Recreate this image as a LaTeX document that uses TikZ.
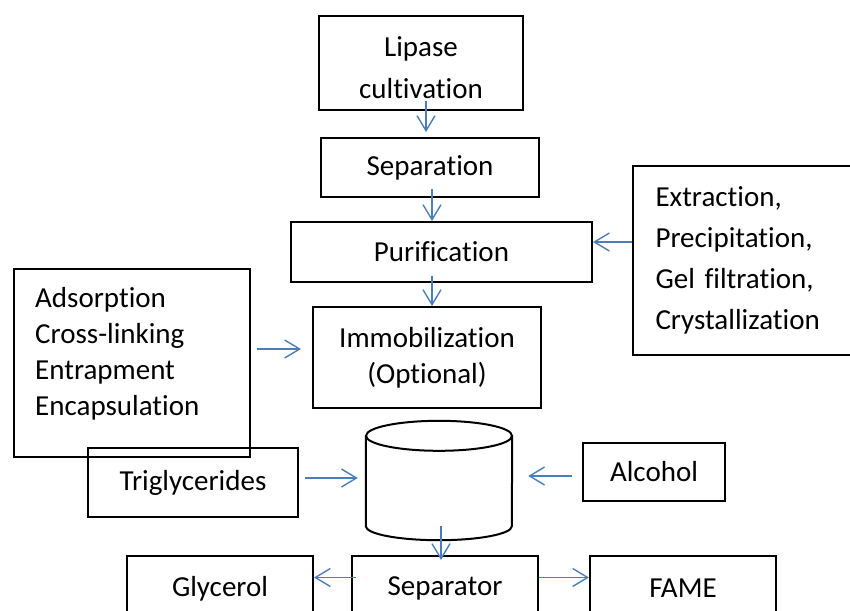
\documentclass[tikz,border=0pt]{standalone}
\usepackage{fontspec}
\setmainfont{Carlito}[Ligatures=NoCommon]
\usetikzlibrary{arrows.meta}
\definecolor{flowblue}{HTML}{4A7EBB}

\begin{document}
\begin{tikzpicture}[x=1pt, y=-1pt,
	box/.style={draw, line width=2pt, inner sep=0pt, align=center, font=\fontsize{29}{37}\selectfont},
	flow/.style={draw=flowblue, line width=1.4pt, -{Straight Barb[length=15pt, width=18pt]}}]
					\useasboundingbox (0,0) rectangle (850,610);

					\node[box, minimum width=204, minimum height=94] (lipase) at (421,63) {};
					\node[inner sep=0pt, align=center, font=\fontsize{29}{42}\selectfont] (lipasetext) at ([yshift=-5pt]lipase.center) {Lipase\\cultivation};
					\node[box, minimum width=218, minimum height=59] (sep) at (430,167.5) {Separation};
					\node[box, minimum width=301, minimum height=60] (purif) at (441.5,252) {Purification};
					\node[box, minimum width=230, minimum height=189, text width=185, align=left, font=\fontsize{29}{41}\selectfont] (methods) at (748,260.5) {Extraction,\\Precipitation,\\Gel filtration,\\Crystallization};
					\node[box, minimum width=228, minimum height=101, font=\fontsize{29}{36}\selectfont] (immob) at (427,357.5) {Immobilization\\(Optional)};
					\node[box, minimum width=236, minimum height=188] (adsorb) at (132,363) {};
					\node[inner sep=0pt, anchor=west, align=left, font=\fontsize{29}{36}\selectfont] (adsorbtext) at (35,354) {Adsorption\\Cross-linking\\Entrapment\\Encapsulation};
					\node[box, minimum width=210, minimum height=69] (trig) at (193,482.5) {Triglycerides};
					\node[box, minimum width=142, minimum height=58] (alcohol) at (654,472) {Alcohol};
					\node[box, minimum width=186, minimum height=65] (separator) at (445,588.5) {Separator};
					\node[box, minimum width=186, minimum height=65] (glycerol) at (220,588.5) {Glycerol};
					\node[box, minimum width=186, minimum height=65] (fame) at (683,588.5) {FAME};

					% reactor
					\node[inner sep=0pt, minimum width=146, minimum height=90] (tank) at (439,481) {};
					\draw[line width=2pt] (tank.north west) -- (tank.south west)
						arc[start angle=180, end angle=0, x radius=73, y radius=14] -- (tank.north east);
					\draw[line width=2pt] (tank.north) ellipse [x radius=73, y radius=15];

					\path[every edge/.style={flow}]
					([xshift=5pt, yshift=10pt]lipase.south) edge[shorten >=5pt] ([xshift=5pt]lipase.south |- sep.north)
					([xshift=2pt, yshift=9pt]sep.south) edge ([xshift=2pt]sep.south |- purif.north)
					([xshift=-9.5pt, yshift=7pt]purif.south) edge ([xshift=-9.5pt]purif.south |- immob.north)
					([yshift=18.5pt]methods.west) edge ([yshift=18.5pt]methods.west -| purif.east)
					([yshift=14pt]adsorb.east) edge[shorten <=6pt, shorten >=11pt] ([yshift=14pt]adsorb.east -| immob.west)
					([yshift=4.5pt]trig.east) edge[shorten <=6pt, shorten >=8pt] ([yshift=4.5pt]trig.east -| tank.west)
					([yshift=-4pt]alcohol.west) edge[shorten <=10pt, shorten >=16pt] ([yshift=-4pt]alcohol.west -| tank.east)
					([xshift=2pt]tank.south) edge[shorten >=-5pt] ([xshift=2pt]tank.south |- separator.north)
					([yshift=11pt]separator.west) edge[shorten <=-5pt] ([yshift=11pt]separator.west -| glycerol.east)
					([yshift=11pt]separator.east) edge ([yshift=11pt]separator.east -| fame.west)
					;
				\end{tikzpicture}
\end{document}
